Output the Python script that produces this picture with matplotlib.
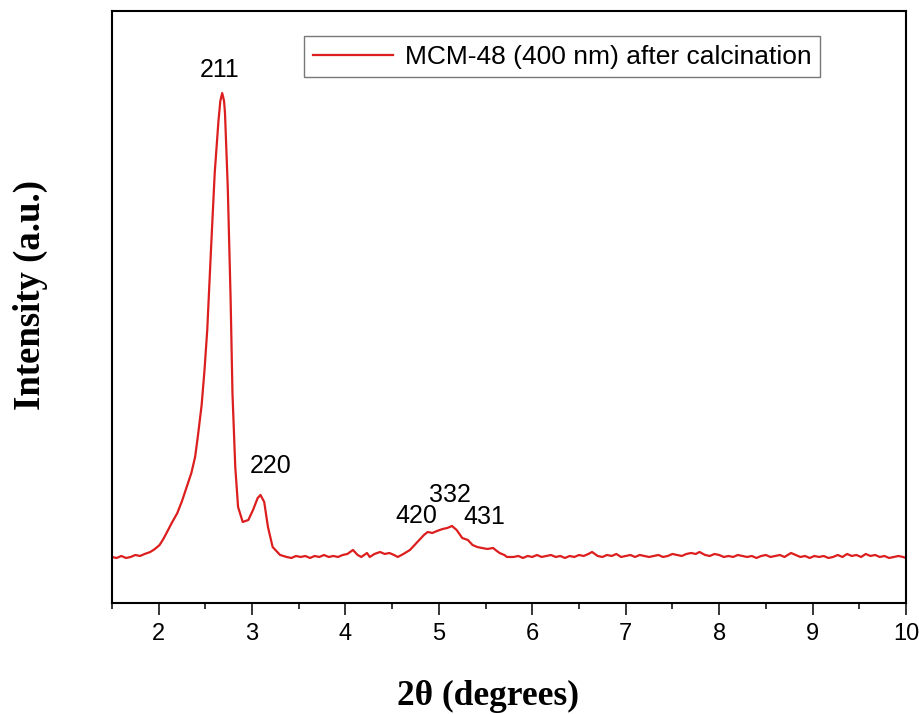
import numpy as np
import matplotlib.pyplot as plt

# XRD pattern of calcined MCM-48 (400 nm), low-angle region
two_theta = [
    1.50, 1.55, 1.60, 1.65, 1.70, 1.75, 1.80, 1.85, 1.91, 1.96,
    2.01, 2.05, 2.09, 2.14, 2.20, 2.25, 2.30, 2.35, 2.39, 2.42,
    2.46, 2.49, 2.52, 2.56, 2.60, 2.64, 2.66, 2.68, 2.70, 2.71,
    2.74, 2.77, 2.79, 2.82, 2.85, 2.90, 2.96, 3.01, 3.06, 3.09,
    3.13, 3.17, 3.22, 3.30, 3.37, 3.42, 3.47, 3.52, 3.57, 3.62,
    3.67, 3.72, 3.77, 3.82, 3.87, 3.92, 3.97, 4.02, 4.08, 4.13,
    4.17, 4.23, 4.26, 4.31, 4.37, 4.42, 4.47, 4.52, 4.56, 4.62,
    4.69, 4.74, 4.79, 4.84, 4.88, 4.93, 4.98, 5.04, 5.09, 5.14,
    5.19, 5.25, 5.31, 5.36, 5.41, 5.46, 5.52, 5.58, 5.62, 5.65,
    5.70, 5.73, 5.80, 5.85, 5.90, 5.95, 6.00, 6.05, 6.10, 6.15,
    6.20, 6.25, 6.30, 6.35, 6.40, 6.45, 6.50, 6.55, 6.60, 6.64,
    6.70, 6.75, 6.80, 6.85, 6.90, 6.95, 7.00, 7.05, 7.10, 7.15,
    7.20, 7.25, 7.30, 7.35, 7.40, 7.45, 7.50, 7.55, 7.60, 7.65,
    7.70, 7.75, 7.79, 7.85, 7.90, 7.95, 8.00, 8.05, 8.10, 8.15,
    8.20, 8.25, 8.30, 8.35, 8.40, 8.45, 8.50, 8.55, 8.60, 8.65,
    8.70, 8.77, 8.82, 8.87, 8.92, 8.97, 9.02, 9.07, 9.12, 9.17,
    9.22, 9.27, 9.32, 9.37, 9.42, 9.47, 9.52, 9.57, 9.62, 9.67,
    9.72, 9.77, 9.82, 9.87, 9.92, 9.97, 10.00,
]
intensity = [
    46, 45, 47, 45, 46, 48, 47, 49, 51, 54,
    58, 64, 71, 80, 90, 102, 116, 130, 146, 167,
    198, 232, 273, 353, 430, 482, 502, 510, 502, 490,
    415, 305, 210, 136, 96, 81, 83, 93, 105, 108,
    101, 76, 56, 48, 46, 45, 47, 46, 47, 45,
    47, 46, 48, 46, 47, 46, 48, 49, 53, 48,
    46, 50, 46, 49, 51, 49, 50, 48, 46, 49,
    53, 58, 63, 68, 71, 70, 72, 74, 75, 77,
    73, 65, 63, 58, 56, 55, 54, 55, 52, 50,
    48, 46, 46, 47, 45, 47, 46, 48, 46, 47,
    48, 46, 47, 45, 47, 46, 48, 47, 49, 51,
    47, 46, 48, 47, 49, 46, 47, 48, 46, 48,
    47, 46, 47, 48, 46, 47, 49, 48, 47, 49,
    50, 49, 51, 48, 47, 49, 48, 46, 47, 46,
    48, 47, 46, 47, 45, 47, 48, 46, 47, 48,
    46, 50, 48, 46, 47, 45, 47, 46, 47, 45,
    46, 48, 46, 49, 47, 48, 46, 49, 47, 48,
    46, 47, 45, 46, 47, 46, 45,
]

# Miller indices of the cubic Ia3d reflections and where their labels sit
hkl_labels = ['211', '220', '420', '332', '431']
label_x = [2.655, 3.195, 4.762, 5.115, 5.484]
label_y = [526, 130, 80, 101, 79]

fig = plt.figure(figsize=(9.2, 7.14), dpi=100)
ax = fig.add_axes([0.1217, 0.1555, 0.863, 0.829])

ax.plot(two_theta, intensity, color='#dc1e1e', lw=1.6,
        label='MCM-48 (400 nm) after calcination')

for lab, lx, ly in zip(hkl_labels, label_x, label_y):
    ax.text(lx, ly, lab, ha='center', va='baseline', fontsize=18,
            family='Liberation Sans')

ax.set_xlim(1.5, 10)
ax.set_ylim(0, 592)
ax.set_xticks([2, 3, 4, 5, 6, 7, 8, 9, 10])
ax.set_xticks(np.arange(1.5, 10.01, 0.5), minor=True)
ax.set_yticks([])
ax.tick_params(axis='x', which='major', direction='out', length=8.5,
               width=1.1, pad=6, labelsize=17)
ax.tick_params(axis='x', which='minor', direction='out', length=4.3,
               width=1.1)
for lbl in ax.get_xticklabels():
    lbl.set_family('Liberation Sans')
for sp in ax.spines.values():
    sp.set_linewidth(1.5)

leg = ax.legend(loc='upper left', bbox_to_anchor=(0.2418, 0.9578),
                borderaxespad=0, fancybox=False, handlelength=3.05,
                handletextpad=0.45, borderpad=0.33,
                prop={'family': 'Liberation Sans', 'size': 19})
leg.get_frame().set_edgecolor('#555555')
leg.get_frame().set_linewidth(1.0)

fig.text(488 / 920, 0.012, '2θ (degrees)', ha='center', va='baseline',
         fontsize=25.5, fontweight='bold', family='Liberation Serif')
fig.text(30 / 920, 1 - 295 / 714, 'Intensity (a.u.)', ha='center',
         va='center', rotation=90, fontsize=26.5, fontweight='bold',
         family='Liberation Serif')

fig.savefig('out.png', dpi=100)
